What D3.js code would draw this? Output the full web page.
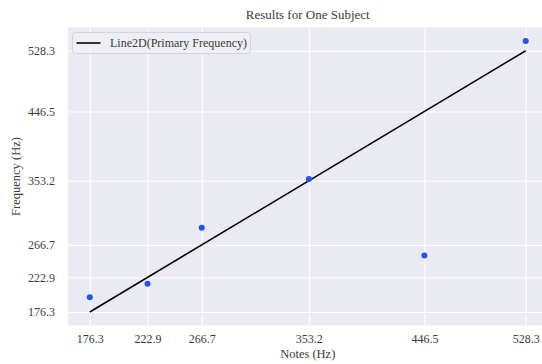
<!DOCTYPE html>
<html>
<head>
<meta charset="utf-8">
<script src="https://cdn.jsdelivr.net/npm/d3@7"></script>
<style>
  html, body { margin: 0; padding: 0; background: #fff; }
  svg { display: block; }
  text { font-family: "Liberation Serif", "Times New Roman", serif; fill: #3a3a3a; }
</style>
</head>
<body>
<svg id="chart" width="542" height="364"></svg>
<script>
// Note frequencies played (x) and the measured primary frequency (y)
const notes = [176.3, 222.9, 266.7, 353.2, 446.5, 528.3];
const measured = [196.0, 214.4, 289.9, 355.5, 252.5, 541.4];
const tickLabels = ["176.3", "222.9", "266.7", "353.2", "446.5", "528.3"];
// Reference line y = x across the note range
const lineX = [176.3, 528.3];
const lineY = [176.3, 528.3];

const svg = d3.select("#chart");
const W = 542, H = 364;
const plot = { left: 68, right: 547.5, top: 27.5, bottom: 325.5 };

// 5% padding around the data, as a default autoscaled axis would use
const pad = (lo, hi) => { const r = hi - lo; return [lo - 0.05 * r, hi + 0.05 * r]; };
const xDom = pad(d3.min(notes.concat(lineX)), d3.max(notes.concat(lineX)));
const yDom = pad(d3.min(measured.concat(lineY)), d3.max(measured.concat(lineY)));

const x = d3.scaleLinear().domain(xDom).range([plot.left, plot.right]);
const y = d3.scaleLinear().domain(yDom).range([plot.bottom, plot.top]);

svg.append("rect").attr("width", W).attr("height", H).attr("fill", "#fff");

svg.append("clipPath").attr("id", "plotclip")
  .append("rect")
  .attr("x", plot.left).attr("y", plot.top)
  .attr("width", plot.right - plot.left).attr("height", plot.bottom - plot.top);

svg.append("rect")
  .attr("x", plot.left).attr("y", plot.top)
  .attr("width", plot.right - plot.left).attr("height", plot.bottom - plot.top)
  .attr("fill", "#eaeaf2");

// White grid lines at every tick
const fmt = (v) => tickLabels[notes.indexOf(v)];
const xAxis = d3.axisBottom(x).tickValues(notes).tickFormat(fmt)
  .tickSize(-(plot.bottom - plot.top)).tickPadding(9);
const yAxis = d3.axisLeft(y).tickValues(notes).tickFormat(fmt)
  .tickSize(-(plot.right - plot.left)).tickPadding(13);

const gx = svg.append("g").attr("transform", `translate(0,${plot.bottom})`).call(xAxis);
const gy = svg.append("g").attr("transform", `translate(${plot.left},0)`).call(yAxis);
[gx, gy].forEach(g => {
  g.select(".domain").remove();
  g.selectAll(".tick line").attr("stroke", "#ffffff").attr("stroke-width", 1);
  g.selectAll(".tick text")
    .style("font-family", '"Liberation Serif", serif')
    .style("font-size", "12px")
    .attr("fill", "#3a3a3a");
});

const g = svg.append("g").attr("clip-path", "url(#plotclip)");

// Reference line
g.append("path")
  .datum(lineX.map((v, i) => [v, lineY[i]]))
  .attr("fill", "none")
  .attr("stroke", "#000")
  .attr("stroke-width", 1.6)
  .attr("d", d3.line().x(d => x(d[0])).y(d => y(d[1])));

// Measured points
g.selectAll("circle.pt")
  .data(notes.map((v, i) => [v, measured[i]]))
  .join("circle")
  .attr("class", "pt")
  .attr("cx", d => x(d[0]))
  .attr("cy", d => y(d[1]))
  .attr("r", 3)
  .attr("fill", "#2352ee");

// Legend
const lg = svg.append("g").attr("transform", `translate(72.5,32.5)`);
lg.append("rect")
  .attr("width", 178).attr("height", 21).attr("rx", 3)
  .attr("fill", "#eeeef5").attr("fill-opacity", 0.9)
  .attr("stroke", "#d4d4dc").attr("stroke-width", 1);
lg.append("line")
  .attr("x1", 4).attr("x2", 28).attr("y1", 10.5).attr("y2", 10.5)
  .attr("stroke", "#000").attr("stroke-width", 1.6);
lg.append("text")
  .attr("x", 37.5).attr("y", 14.5)
  .style("font-size", "12px")
  .text("Line2D(Primary Frequency)");

// Title and axis labels
svg.append("text")
  .attr("x", (plot.left + plot.right) / 2).attr("y", 19)
  .attr("text-anchor", "middle")
  .style("font-size", "13px")
  .text("Results for One Subject");

svg.append("text")
  .attr("x", (plot.left + plot.right) / 2).attr("y", 357.5)
  .attr("text-anchor", "middle")
  .style("font-size", "12.5px")
  .text("Notes (Hz)");

svg.append("text")
  .attr("transform", `translate(20,${(plot.top + plot.bottom) / 2}) rotate(-90)`)
  .attr("text-anchor", "middle")
  .style("font-size", "12.5px")
  .text("Frequency (Hz)");
</script>
</body>
</html>
